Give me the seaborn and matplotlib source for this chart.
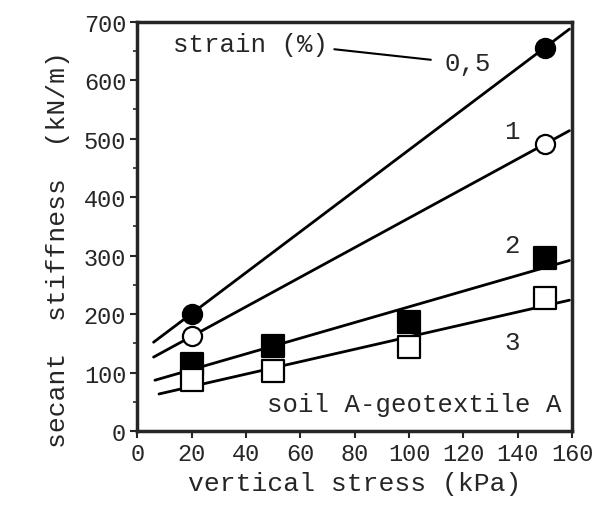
import numpy as np
import pandas as pd
import matplotlib
matplotlib.use("Agg")
import matplotlib.pyplot as plt
import seaborn as sns

# data
strain_labels = ["0,5", "1", "2", "3"]
stress_05 = [20, 150]
stiff_05 = [201, 656]
stress_1 = [20, 150]
stiff_1 = [162, 491]
stress_2 = [20, 50, 100, 150]
stiff_2 = [115, 146, 186, 296]
stress_3 = [20, 50, 100, 150]
stiff_3 = [88, 102, 143, 227]

xticks = [0, 20, 40, 60, 80, 100, 120, 140, 160]
yticks = [0, 100, 200, 300, 400, 500, 600, 700]

series = [
    (strain_labels[0], stress_05, stiff_05, "o", "black", (6, 159)),
    (strain_labels[1], stress_1, stiff_1, "o", "white", (6, 159)),
    (strain_labels[2], stress_2, stiff_2, "s", "black", (6.5, 159)),
    (strain_labels[3], stress_3, stiff_3, "s", "white", (8, 159)),
]

sns.set_style("ticks")
plt.rcParams["font.family"] = ["Liberation Mono", "DejaVu Sans Mono"]

fig = plt.figure(figsize=(6.1, 5.06), dpi=100)
ax = fig.add_axes([0.225, 0.146, 0.713, 0.809])

for name, xs, ys, mk, fc, (x0, x1) in series:
    # least-squares line through the points
    slope, icpt = np.polyfit(xs, ys, 1)
    fit = pd.DataFrame({"x": [x0, x1]})
    fit["y"] = icpt + slope * fit["x"]
    sns.lineplot(data=fit, x="x", y="y", color="black", linewidth=2, ax=ax)
    pts = pd.DataFrame({"x": xs, "y": ys})
    sns.scatterplot(data=pts, x="x", y="y", marker=mk, s=190 if mk == "o" else 230,
                    facecolor=fc, edgecolor="black", linewidth=1.6, zorder=5, ax=ax)

ax.set_xlim(0, 160)
ax.set_ylim(0, 700)
ax.set_xticks(xticks)
ax.set_yticks(yticks)
ax.set_yticks([50, 150, 250, 350, 450, 550, 650], minor=True)
ax.tick_params(axis="both", which="major", direction="out", length=5, width=1.5,
               labelsize=17, pad=3)
ax.tick_params(axis="y", which="minor", direction="out", length=3, width=1.2)
for sp in ax.spines.values():
    sp.set_linewidth(2.5)
    sp.set_visible(True)

ax.set_xlabel("vertical stress (kPa)", fontsize=19, labelpad=4)
ax.set_ylabel("secant  stiffness  (kN/m)", fontsize=19)
ax.yaxis.set_label_coords(-0.155, 0.445)

ax.text(13, 662, "strain (%)", fontsize=18.5, va="center", ha="left")
ax.plot([72.5, 108], [653, 635], color="black", linewidth=1.5)
ax.text(113, 630, strain_labels[0], fontsize=18.5, va="center", ha="left")
ax.text(135, 514, strain_labels[1], fontsize=18.5, va="center", ha="left")
ax.text(135, 318, strain_labels[2], fontsize=18.5, va="center", ha="left")
ax.text(135, 153, strain_labels[3], fontsize=18.5, va="center", ha="left")
ax.text(156, 46, "soil A-geotextile A", fontsize=18.5, va="center", ha="right")

fig.savefig("out.png", dpi=100, facecolor="white")
